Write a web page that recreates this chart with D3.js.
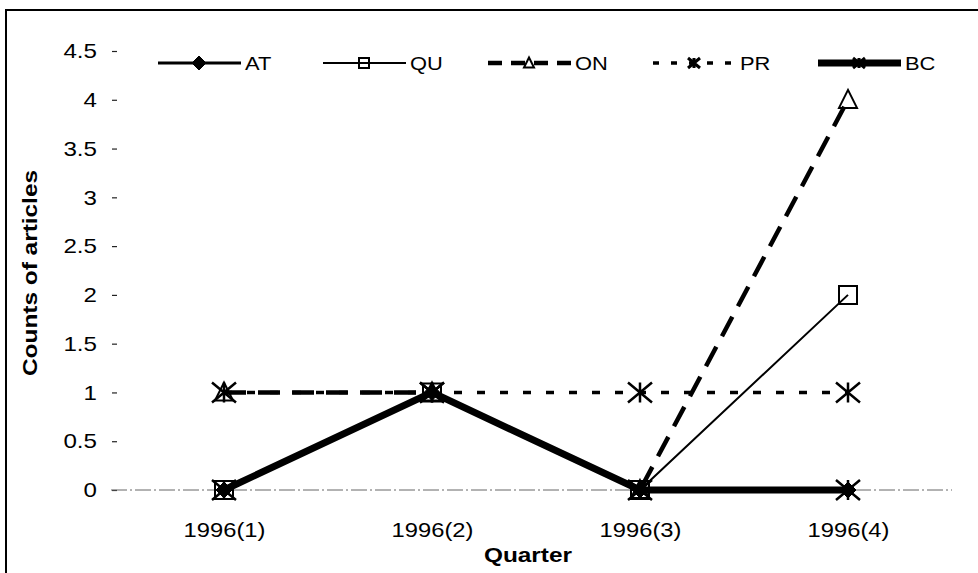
<!DOCTYPE html>
<html>
<head>
<meta charset="utf-8">
<script src="https://cdn.jsdelivr.net/npm/d3@7"></script>
<style>
  body { margin: 0; background: #fff; }
  svg { display: block; font-family: "Liberation Sans", Arial, sans-serif; }
</style>
</head>
<body>
<svg id="chart" width="978" height="573"></svg>
<script>
var quarters = ["1996(1)", "1996(2)", "1996(3)", "1996(4)"];
var yTicks = [0, 0.5, 1, 1.5, 2, 2.5, 3, 3.5, 4, 4.5];
var seriesNames = ["AT", "QU", "ON", "PR", "BC"];
var atValues = [0, 1, 0, 0];
var quValues = [0, 1, 0, 2];
var onValues = [1, 1, 0, 4];
var prValues = [1, 1, 1, 1];
var bcValues = [0, 1, 0, 0];

var svg = d3.select("#chart");

// stretch text a bit, the scanned type is wider than arial
var widen = function(sel, k){
  sel.each(function(){
    var w = this.getComputedTextLength();
    this.setAttribute("textLength", (w * k).toFixed(1));
    this.setAttribute("lengthAdjust", "spacingAndGlyphs");
  });
};

// outer frame, runs off the right and bottom edge like the scan
svg.append("rect").attr("x", 6).attr("y", 10).attr("width", 1000).attr("height", 600)
    .attr("fill", "none").attr("stroke", "#000").attr("stroke-width", 2);

var x = d3.scalePoint().domain(quarters).range([120, 952]).padding(0.5);
var y = d3.scaleLinear().domain([0, 4.5]).range([490, 51]);

// y ticks: labels + little dashes, no axis line
var yAxis = svg.append("g").attr("transform", "translate(117,0)")
    .call(d3.axisLeft(y).tickValues(yTicks).tickSize(5).tickPadding(15)
          .tickFormat(function(d){ return d; }));
yAxis.select(".domain").remove();
yAxis.selectAll("text").attr("font-size", 21).attr("fill", "#000")
    .attr("font-family", "Liberation Sans, Arial, sans-serif");
yAxis.selectAll("line").attr("stroke", "#222").attr("stroke-width", 1.2);
widen(yAxis.selectAll("text"), 1.15);

// zero line, faint dash-dot
svg.append("line").attr("x1", 111).attr("x2", 952).attr("y1", y(0)).attr("y2", y(0))
    .attr("stroke", "#666").attr("stroke-width", 1).attr("stroke-dasharray", "16,3,2,3");

var xAxis = svg.append("g").attr("transform", "translate(0,510)")
    .call(d3.axisBottom(x).tickSize(0).tickPadding(12));
xAxis.select(".domain").remove();
xAxis.selectAll("text").attr("font-size", 21).attr("fill", "#000")
    .attr("font-family", "Liberation Sans, Arial, sans-serif");
widen(xAxis.selectAll("text"), 1.13);

var xTitle = svg.append("text").attr("x", 528).attr("y", 562).attr("text-anchor", "middle")
    .attr("font-size", 20).attr("font-weight", "bold").text("Quarter");
var yTitle = svg.append("text").attr("transform", "translate(37,273) rotate(-90)")
    .attr("text-anchor", "middle").attr("font-size", 20).attr("font-weight", "bold")
    .text("Counts of articles");
widen(xTitle, 1.22);
widen(yTitle, 1.22);

// series styles
var styles = {
  AT: {values: atValues, width: 3, dash: null, legDash: null, marker: "diamond"},
  QU: {values: quValues, width: 2, dash: null, legDash: null, marker: "square"},
  ON: {values: onValues, width: 4.5, dash: "22,12", legDash: "14,9", marker: "triangle"},
  PR: {values: prValues, width: 3.5, dash: "8,15", legDash: "6,12", marker: "star"},
  BC: {values: bcValues, width: 7, dash: null, legDash: null, marker: "star"}
};

var markerPath = function(kind, s){
  if(kind == "diamond") return "M0," + (-s) + "L" + s + ",0L0," + s + "L" + (-s) + ",0Z";
  if(kind == "square") return "M" + (-s) + "," + (-s) + "h" + 2*s + "v" + 2*s + "h" + (-2*s) + "Z";
  if(kind == "triangle") return "M0," + (-s*1.1) + "L" + s + "," + s*0.9 + "L" + (-s) + "," + s*0.9 + "Z";
  var w = s * 1.2;
  return "M" + (-w) + "," + (-s) + "L" + w + "," + s + "M" + (-w) + "," + s + "L" + w + "," + (-s)
       + "M0," + (-s) + "L0," + s;
};

var drawMarker = function(g, kind, cx, cy, s, legend){
  var p = g.append("path").attr("d", markerPath(kind, s))
      .attr("transform", "translate(" + cx + "," + cy + ")");
  if(kind == "diamond"){
    p.attr("fill", "#000").attr("stroke", "#000");
  } else if(kind == "star"){
    p.attr("fill", "none").attr("stroke", "#000").attr("stroke-width", legend ? 3 : 2.5);
  } else {
    p.attr("fill", "none").attr("stroke", "#000").attr("stroke-width", 2);
  }
};

var line = d3.line().x(function(d,i){ return x(quarters[i]); }).y(function(d){ return y(d); });
var plot = svg.append("g");

seriesNames.forEach(function(name){
  var st = styles[name];
  plot.append("path").datum(st.values).attr("d", line)
      .attr("fill", "none").attr("stroke", "#000").attr("stroke-width", st.width)
      .attr("stroke-dasharray", st.dash);
});
seriesNames.forEach(function(name){
  var st = styles[name];
  st.values.forEach(function(v, i){
    var s = st.marker == "star" ? 10 : st.marker == "diamond" ? 8 : 9;
    drawMarker(plot, st.marker, x(quarters[i]), y(v), s, false);
  });
});

// legend row
var legend = svg.append("g").attr("transform", "translate(158,63)");
seriesNames.forEach(function(name, i){
  var st = styles[name];
  var g = legend.append("g").attr("transform", "translate(" + (i * 165) + ",0)");
  g.append("line").attr("x1", 0).attr("x2", 83).attr("y1", 0).attr("y2", 0)
      .attr("stroke", "#000").attr("stroke-width", st.width)
      .attr("stroke-dasharray", st.legDash);
  var s = st.marker == "diamond" ? 7 : 5;
  drawMarker(g, st.marker, 41, 0, s, true);
  var t = g.append("text").attr("x", 87).attr("y", 7).attr("font-size", 19).text(name);
  widen(t, 1.15);
});
</script>
</body>
</html>
